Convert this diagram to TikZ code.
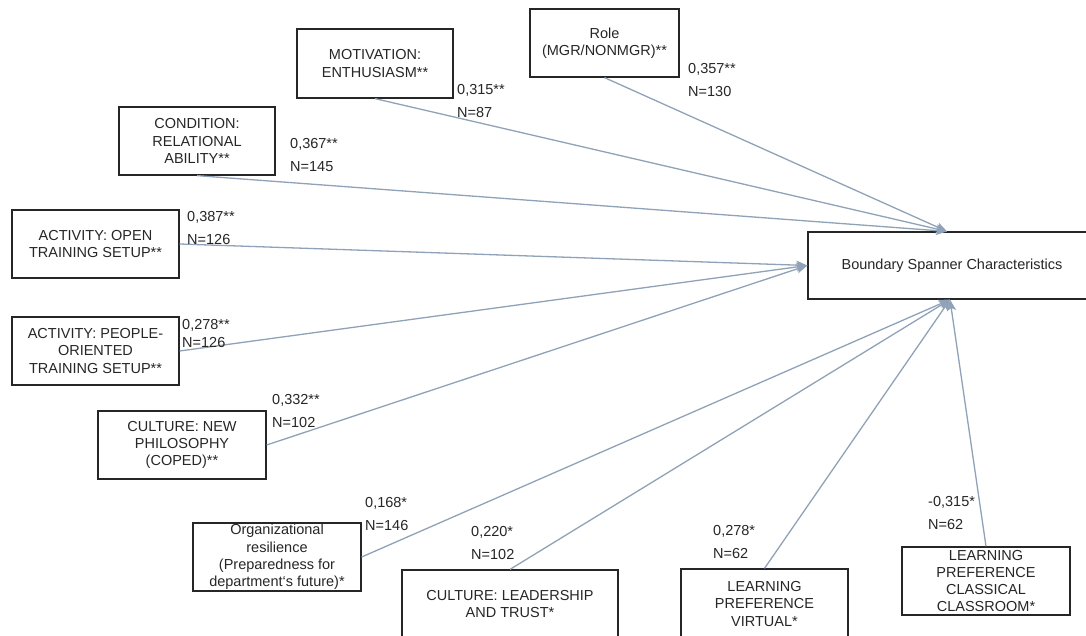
\documentclass[tikz,border=0pt]{standalone}
\usepackage{fontspec}
\setmainfont{Liberation Sans}
\usetikzlibrary{arrows.meta}
\definecolor{linkgray}{HTML}{8FA2B7}
\definecolor{boxedge}{HTML}{262626}
\tikzset{
  factor/.style={draw=boxedge, line width=1.25pt, inner sep=0pt, align=center,
    font=\fontsize{14.5}{17.3}\selectfont, text=black!85},
  coef/.style={anchor=west, inner sep=0pt, align=left,
    font=\fontsize{14.5}{23}\selectfont, text=black!85},
  link/.style={draw=linkgray, line width=1.3pt, -{Stealth[length=11pt,width=9pt,inset=2.5pt]}}
}
\begin{document}
\begin{tikzpicture}[x=1pt,y=-1pt]
  \useasboundingbox (0,0) rectangle (1086,636);
  \clip (0,0) rectangle (1086,636);

  % outcome
  \node[factor, minimum width=288pt, minimum height=67pt] (bsc) at (952,265.5) {Boundary Spanner Characteristics};

  % predictors
  \node[factor, minimum width=149pt, minimum height=68pt] (role) at (604.5,43) {Role\\(MGR/NONMGR)**};
  \node[factor, minimum width=156pt, minimum height=69pt] (motiv) at (375,63.5) {MOTIVATION:\\ENTHUSIASM**};
  \node[factor, minimum width=156pt, minimum height=68pt] (cond) at (197,141) {CONDITION:\\RELATIONAL\\ABILITY**};
  \node[factor, minimum width=167pt, minimum height=68pt] (open) at (95.5,244) {ACTIVITY: OPEN\\TRAINING SETUP**};
  \node[factor, minimum width=167pt, minimum height=68pt] (people) at (95.5,351) {ACTIVITY: PEOPLE-\\ORIENTED\\TRAINING SETUP**};
  \node[factor, minimum width=168pt, minimum height=68pt] (newphil) at (182,445) {CULTURE: NEW\\PHILOSOPHY\\(COPED)**};
  \node[factor, minimum width=168pt, minimum height=68pt] (resil) at (277,557) {Organizational\\resilience\\(Preparedness for\\department‘s future)*};
  \node[factor, minimum width=216pt, minimum height=68pt] (lead) at (510,604) {CULTURE: LEADERSHIP\\AND TRUST*};
  \node[factor, minimum width=167pt, minimum height=70pt] (virt) at (764.5,604) {LEARNING\\PREFERENCE\\VIRTUAL*};
  \node[factor, minimum width=168pt, minimum height=68pt] (classic) at (986,581) {LEARNING\\PREFERENCE\\CLASSICAL\\CLASSROOM*};

  % paths into the top edge
  \draw[link] (role.south) -- ([xshift=-5pt]bsc.north);
  \draw[link] (motiv.south) -- ([xshift=-5pt]bsc.north);
  \draw[link] (cond.south) -- ([xshift=-5pt]bsc.north);
  % paths into the left edge
  \draw[link] (open.east) -- (bsc.west);
  \draw[link] (people.east) -- (bsc.west);
  \draw[link] (newphil.east) -- (bsc.west);
  % paths into the bottom edge
  \draw[link] (resil.east) -- ([xshift=-2pt]bsc.south);
  \draw[link] (lead.north) -- ([xshift=-2pt]bsc.south);
  \draw[link] (virt.north) -- ([xshift=-2pt]bsc.south);
  \draw[link] (classic.north) -- ([xshift=-2pt]bsc.south);

  % coefficients and sample sizes
  \node[coef] (c1) at (688,80) {0,357**\\N=130};
  \node[coef] (c2) at (457,101.5) {0,315**\\N=87};
  \node[coef] (c3) at (290,155.5) {0,367**\\N=145};
  \node[coef] (c4) at (187,228.5) {0,387**\\N=126};
  \node[coef] (c5) at (182,334) {0,278**\\[-5pt]N=126};
  \node[coef] (c6) at (272,411.5) {0,332**\\N=102};
  \node[coef] (c7) at (365,514.5) {0,168*\\N=146};
  \node[coef] (c8) at (471,543) {0,220*\\N=102};
  \node[coef] (c9) at (713,542) {0,278*\\N=62};
  \node[coef] (c10) at (928,513.5) {-0,315*\\N=62};
\end{tikzpicture}
\end{document}
